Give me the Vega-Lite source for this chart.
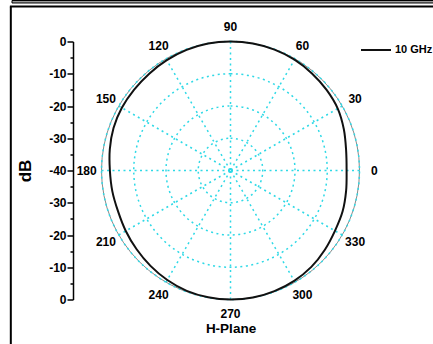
{
  "$schema": "https://vega.github.io/schema/vega-lite/v6.json",
  "width": 258,
  "height": 258,
  "autosize": {"type": "none"},
  "padding": {"left": 101.5, "top": 41.5, "right": 73.5, "bottom": 44.5},
  "background": "#ffffff",
  "config": {"view": {"stroke": null}, "font": "Liberation Sans", "axis": {"labelOverlap": false}},
  "datasets": {
    "pattern": [
      {"angle": 0, "dB": -4.0}, {"angle": 10, "dB": -3.6}, {"angle": 20, "dB": -2.6},
      {"angle": 30, "dB": -1.6}, {"angle": 40, "dB": -1.1}, {"angle": 50, "dB": -0.7},
      {"angle": 60, "dB": -0.3}, {"angle": 70, "dB": -0.1}, {"angle": 80, "dB": 0},
      {"angle": 90, "dB": 0}, {"angle": 100, "dB": 0}, {"angle": 110, "dB": -0.2},
      {"angle": 120, "dB": -0.5}, {"angle": 130, "dB": -0.8}, {"angle": 140, "dB": -1.0},
      {"angle": 150, "dB": -1.1}, {"angle": 160, "dB": -1.4}, {"angle": 170, "dB": -2.0},
      {"angle": 180, "dB": -2.6}, {"angle": 190, "dB": -2.8}, {"angle": 200, "dB": -2.9},
      {"angle": 210, "dB": -2.5}, {"angle": 220, "dB": -2.0}, {"angle": 230, "dB": -1.4},
      {"angle": 240, "dB": -0.8}, {"angle": 250, "dB": -0.3}, {"angle": 260, "dB": -0.1},
      {"angle": 270, "dB": 0}, {"angle": 280, "dB": 0}, {"angle": 290, "dB": -0.2},
      {"angle": 300, "dB": -0.5}, {"angle": 310, "dB": -1.0}, {"angle": 320, "dB": -1.8},
      {"angle": 330, "dB": -2.6}, {"angle": 340, "dB": -3.0}, {"angle": 350, "dB": -3.6}
    ],
    "rings": [{"r": 10}, {"r": 20}, {"r": 30}, {"r": 40}],
    "spokes": [
      {"a": 0}, {"a": 30}, {"a": 60}, {"a": 90}, {"a": 120}, {"a": 150},
      {"a": 180}, {"a": 210}, {"a": 240}, {"a": 270}, {"a": 300}, {"a": 330}
    ]
  },
  "layer": [
    {
      "data": {"values": [{"r": 40}]},
      "mark": {"type": "arc", "theta": 0, "theta2": 6.2832, "filled": false, "stroke": "#8a8a8a", "strokeWidth": 1},
      "encoding": {
        "radius": {"field": "r", "type": "quantitative", "stack": null, "scale": {"type": "linear", "domain": [0, 40], "range": [0, 129], "zero": true}}
      }
    },
    {
      "data": {"name": "rings"},
      "mark": {"type": "arc", "theta": 0, "theta2": 6.2832, "filled": false, "stroke": "#2fd9e6", "strokeWidth": 1.5, "strokeDash": [2, 3.5]},
      "encoding": {
        "radius": {"field": "r", "type": "quantitative", "stack": null}
      }
    },
    {
      "data": {"name": "spokes"},
      "transform": [
        {"calculate": "40*cos(datum.a*PI/180)", "as": "sx"},
        {"calculate": "40*sin(datum.a*PI/180)", "as": "sy"}
      ],
      "mark": {"type": "rule", "color": "#2fd9e6", "strokeWidth": 1.5, "strokeDash": [2, 3.5]},
      "encoding": {
        "x": {
          "field": "sx", "type": "quantitative",
          "scale": {"domain": [-40, 40], "nice": false, "zero": false},
          "axis": {
            "title": "H-Plane", "labels": false, "ticks": false, "domain": false, "grid": false,
            "titleFont": "Liberation Sans", "titleFontSize": 13.5, "titleFontWeight": "bold",
            "titleColor": "#000000", "titlePadding": 22
          }
        },
        "y": {
          "field": "sy", "type": "quantitative",
          "scale": {"domain": [-40, 40], "nice": false, "zero": false},
          "axis": {
            "title": "dB", "orient": "left", "offset": 28.5, "grid": false,
            "values": [-40, -35, -30, -25, -20, -15, -10, -5, 0, 5, 10, 15, 20, 25, 30, 35, 40],
            "tickCount": 40,
            "labelExpr": "datum.value % 10 === 0 ? toString(abs(datum.value) - 40) : ''",
            "labelOverlap": false, "labelFlush": false, "labelBound": false,
            "domainColor": "#000000", "domainWidth": 1.5,
            "tickColor": "#000000", "tickWidth": 1.5,
            "tickSize": {"condition": {"test": "datum.value % 10 === 0", "value": 6}, "value": 3},
            "labelFont": "Liberation Sans", "labelFontWeight": "bold", "labelFontSize": 12,
            "labelColor": "#000000", "labelPadding": 1,
            "titleFont": "Liberation Sans", "titleFontSize": 17, "titleFontWeight": "bold",
            "titleColor": "#000000", "titlePadding": 14
          }
        },
        "x2": {"datum": 0},
        "y2": {"datum": 0}
      }
    },
    {
      "data": {"name": "pattern"},
      "transform": [
        {"calculate": "(datum.dB+40)*cos(datum.angle*PI/180)", "as": "px"},
        {"calculate": "(datum.dB+40)*sin(datum.angle*PI/180)", "as": "py"}
      ],
      "mark": {"type": "line", "interpolate": "cardinal-closed", "strokeWidth": 2},
      "encoding": {
        "x": {"field": "px", "type": "quantitative"},
        "y": {"field": "py", "type": "quantitative"},
        "order": {"field": "angle", "type": "quantitative"},
        "color": {
          "datum": "10 GHz", "type": "nominal",
          "scale": {"range": ["#111111"]},
          "legend": {
            "title": null, "orient": "none", "legendX": 258.5, "legendY": -7.5, "padding": 0,
            "symbolType": "stroke", "symbolSize": 900, "symbolStrokeWidth": 2, "symbolStrokeColor": "#111111",
            "labelFont": "Liberation Sans", "labelFontWeight": "bold", "labelFontSize": 11,
            "labelColor": "#000000", "labelOffset": 3
          }
        }
      }
    },
    {
      "data": {"name": "spokes"},
      "mark": {"type": "text", "font": "Liberation Sans", "fontWeight": "bold", "fontSize": 12, "color": "#000000", "align": "center", "baseline": "middle"},
      "encoding": {
        "theta": {"field": "a", "type": "quantitative", "scale": {"type": "linear", "domain": [0, 360], "range": [1.5708, -4.7124]}},
        "radius": {"datum": 44.6, "type": "quantitative"},
        "text": {"field": "a", "type": "quantitative"}
      }
    },
    {
      "data": {"values": [{}]},
      "mark": {"type": "rule", "color": "#000000", "strokeWidth": 2},
      "encoding": {"x": {"datum": -68.12}, "y": {"datum": 50.85}, "y2": {"datum": -60}}
    },
    {
      "data": {"values": [{}]},
      "mark": {"type": "rule", "color": "#000000", "strokeWidth": 2},
      "encoding": {"x": {"datum": -68.4}, "x2": {"datum": 70}, "y": {"datum": 50.85}}
    },
    {
      "data": {"values": [{}]},
      "mark": {"type": "rect", "fill": "#9a9a9a", "stroke": "#000000", "strokeWidth": 1},
      "encoding": {"x": {"datum": -67.75}, "x2": {"datum": 70}, "y": {"datum": 52.71}, "y2": {"datum": 51.94}}
    }
  ]
}
